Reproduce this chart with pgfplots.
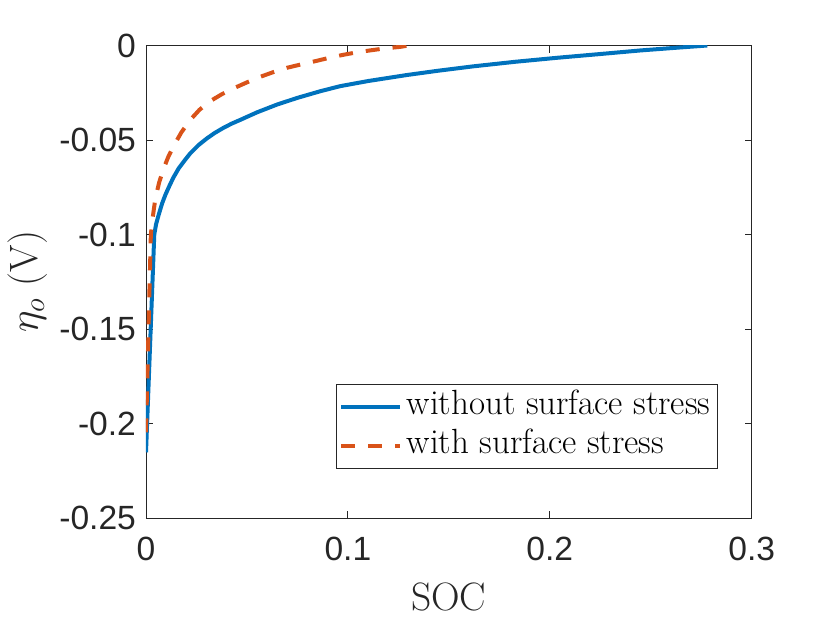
\documentclass[border=0pt]{standalone}
\usepackage{fontspec}
\usepackage{pgfplots}
\pgfplotsset{compat=1.18}
\newfontfamily\ticksfont{Liberation Sans}
\definecolor{mblue}{rgb}{0,0.447,0.741}
\definecolor{morange}{rgb}{0.85,0.325,0.098}
\definecolor{axgray}{rgb}{0.15,0.15,0.15}
\begin{document}
\begin{tikzpicture}
\useasboundingbox (-73pt,-52.5pt) rectangle (342pt,259pt);
\begin{axis}[
 scale only axis, width=302.85pt, height=236.25pt,
 xmin=0, xmax=0.3, ymin=-0.25, ymax=0,
 xtick={0,0.1,0.2,0.3}, xticklabels={0,0.1,0.2,0.3},
 ytick={-0.25,-0.2,-0.15,-0.1,-0.05,0}, yticklabels={-0.25,-0.2,-0.15,-0.1,-0.05,0},
 tick align=inside, major tick length=3.5pt,
 axis line style={draw=axgray, line width=0.45pt},
 tick style={draw=axgray, line width=0.45pt},
 ticklabel style={font=\ticksfont\fontsize{16.8}{20}\selectfont, text=axgray},
 xticklabel style={yshift=-6.2pt},
 yticklabel style={xshift=-1.5pt},
 xlabel={SOC}, ylabel={$\eta_o$ (V)},
 label style={font=\fontsize{19.8}{23}\selectfont, text=axgray},
 xlabel style={at={(axis description cs:0.5,-0.1947)}, anchor=base},
 ylabel style={at={(axis description cs:-0.1506,0.5)}, anchor=south},
 legend style={at={(rel axis cs:0.944,0.1037)}, anchor=south east, draw=axgray, line width=0.45pt,
   font=\fontsize{17.5}{20}\selectfont, inner xsep=1.2pt, inner ysep=1.4pt, row sep=-0.2pt,
   nodes={inner xsep=2.3pt, inner ysep=1.5pt, text height=12.1pt, text depth=4.6pt}},
 legend cell align=left,
 legend image code/.code={\draw[#1] (0pt,0pt) -- (29.5pt,0pt);},
]
\addplot[color=mblue, line width=2pt] coordinates {
(0,-0.2153) (0.0041,-0.1000) (0.0050,-0.0945) (0.0063,-0.0895) (0.0080,-0.0835)
(0.0096,-0.0790) (0.0115,-0.0745) (0.0135,-0.0700) (0.0162,-0.0650) (0.0190,-0.0610)
(0.0218,-0.0572) (0.0260,-0.0527) (0.0301,-0.0492) (0.0340,-0.0463) (0.0383,-0.0436)
(0.0425,-0.0413) (0.0466,-0.0394) (0.0549,-0.0354) (0.0650,-0.0312) (0.0750,-0.0277)
(0.0863,-0.0242) (0.0962,-0.0215) (0.1100,-0.0188) (0.1293,-0.0156) (0.1450,-0.0133)
(0.1623,-0.0110) (0.1830,-0.0086) (0.2036,-0.0065) (0.2240,-0.0046) (0.2450,-0.0026)
(0.2650,-0.0010) (0.2780,0)
};
\addlegendentry{without surface stress}
\addplot[color=morange, line width=2pt, dash pattern=on 7pt off 6.5pt] coordinates {
(0,-0.2047) (0.0024,-0.1000) (0.0032,-0.0920) (0.0046,-0.0812) (0.0065,-0.0725)
(0.0086,-0.0655) (0.0110,-0.0590) (0.0135,-0.0535) (0.0175,-0.0460) (0.0218,-0.0395)
(0.0265,-0.0340) (0.0317,-0.0295) (0.0375,-0.0258) (0.0433,-0.0227) (0.0500,-0.0195)
(0.0565,-0.0166) (0.0630,-0.0141) (0.0698,-0.0118) (0.0768,-0.0100) (0.0838,-0.0083)
(0.0908,-0.0065) (0.0978,-0.0049) (0.1045,-0.0036) (0.1110,-0.0026) (0.1185,-0.0015)
(0.1260,-0.0007) (0.1300,0)
};
\addlegendentry{with surface stress}
\end{axis}
\end{tikzpicture}
\end{document}
